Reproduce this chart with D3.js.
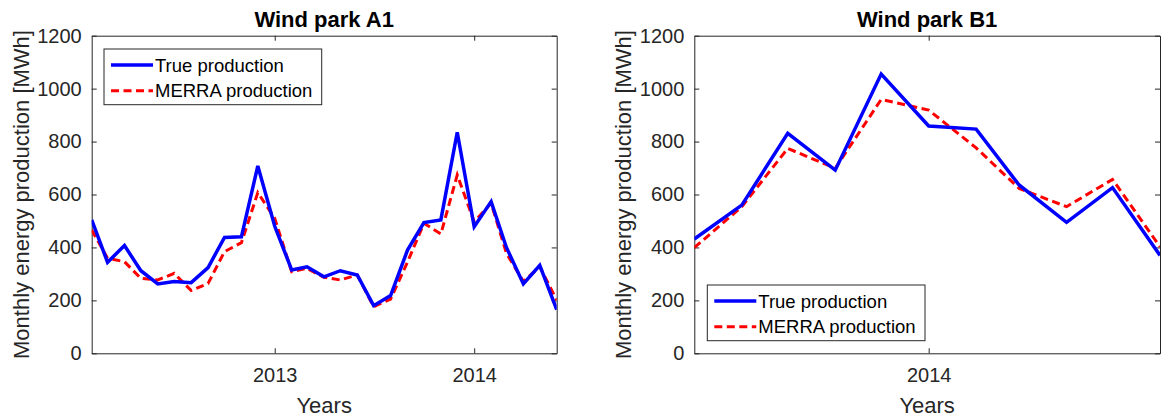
<!DOCTYPE html>
<html>
<head>
<meta charset="utf-8">
<script src="https://cdn.jsdelivr.net/npm/d3@7"></script>
<style>
  body { margin: 0; background: #fff; }
  svg { font-family: "Liberation Sans", Arial, sans-serif; }
</style>
</head>
<body>
<div id="viz"></div>
<script>
// monthly values
var monthsA = ["2012-02","2012-03","2012-04","2012-05","2012-06","2012-07","2012-08","2012-09","2012-10","2012-11","2012-12",
               "2013-01","2013-02","2013-03","2013-04","2013-05","2013-06","2013-07","2013-08","2013-09","2013-10","2013-11","2013-12",
               "2014-01","2014-02","2014-03","2014-04","2014-05","2014-06"];
var trueA  = [504,344,407,312,262,271,267,324,438,440,708,480,315,327,289,312,296,180,218,390,494,504,835,478,573,400,262,332,165];
var merraA = [466,359,346,283,277,302,237,264,384,418,607,510,308,321,287,277,296,176,205,345,491,451,674,497,567,378,271,327,201];

var monthsB = ["2013-08","2013-09","2013-10","2013-11","2013-12","2014-01","2014-02","2014-03","2014-04","2014-05","2014-06"];
var trueB  = [432,560,831,692,1055,859,847,636,495,626,370];
var merraB = [399,554,774,699,959,919,776,623,554,657,403];

var yTicks = [0,200,400,600,800,1000,1200];
var legendLabels = ["True production","MERRA production"];

var W = 1161, H = 419;
var ink = "#262626";
var parseMonth = d3.timeParse("%Y-%m");

var svg = d3.select("#viz")
  .append("svg")
    .attr("width", W)
    .attr("height", H);

// draw one panel
function panel(id, left, right, title, months, tv, mv, legendPos) {
    var top = 35.7, bottom = 353.3;
    var dates = months.map(parseMonth);

    var x = d3.scaleTime()
        .domain([dates[0], dates[dates.length - 1]])
        .range([left, right]);
    var y = d3.scaleLinear()
        .domain([0, 1200])
        .range([bottom, top]);

    var g = svg.append("g");

    g.append("clipPath").attr("id", "clip" + id)
      .append("rect")
        .attr("x", left).attr("y", top)
        .attr("width", right - left).attr("height", bottom - top);

    // year ticks inside the range
    var years = d3.timeYear.range(d3.timeDay.offset(dates[0], 1), d3.timeDay.offset(dates[dates.length - 1], 1));

    // axes with inward ticks on all four sides
    g.append("g")
        .attr("transform", "translate(0," + bottom + ")")
        .call(d3.axisBottom(x).tickValues(years).tickFormat(d3.timeFormat("%Y")).tickSizeInner(-5).tickSizeOuter(0).tickPadding(15));
    g.append("g")
        .attr("transform", "translate(0," + top + ")")
        .call(d3.axisTop(x).tickValues(years).tickFormat("").tickSizeInner(-5).tickSizeOuter(0));
    g.append("g")
        .attr("transform", "translate(" + left + ",0)")
        .call(d3.axisLeft(y).tickValues(yTicks).tickFormat(d3.format("d")).tickSizeInner(-5).tickSizeOuter(0).tickPadding(10));
    g.append("g")
        .attr("transform", "translate(" + right + ",0)")
        .call(d3.axisRight(y).tickValues(yTicks).tickFormat("").tickSizeInner(-5).tickSizeOuter(0));

    g.selectAll(".domain").attr("stroke", ink).attr("stroke-width", 1);
    g.selectAll(".tick line").attr("stroke", ink).attr("stroke-width", 1);
    g.selectAll(".tick text").attr("fill", ink).style("font-size", "20px");

    // lines
    var line = d3.line()
        .x(function(d, i) { return x(dates[i]); })
        .y(function(d) { return y(d); });

    var lines = g.append("g").attr("clip-path", "url(#clip" + id + ")");
    lines.append("path")
        .datum(mv)
        .attr("d", line)
        .attr("fill", "none")
        .attr("stroke", "#ff0000")
        .attr("stroke-width", 3)
        .attr("stroke-dasharray", "8,4.5");
    lines.append("path")
        .datum(tv)
        .attr("d", line)
        .attr("fill", "none")
        .attr("stroke", "#0000ff")
        .attr("stroke-width", 3.5);

    // title and labels
    g.append("text")
        .attr("x", (left + right) / 2).attr("y", 26.7)
        .attr("text-anchor", "middle")
        .attr("fill", "#000")
        .style("font-size", "22px").style("font-weight", "bold")
        .text(title);
    g.append("text")
        .attr("x", (left + right) / 2).attr("y", 413)
        .attr("text-anchor", "middle")
        .attr("fill", ink)
        .style("font-size", "22px")
        .text("Years");
    g.append("text")
        .attr("transform", "translate(" + (left - 63.2) + "," + ((top + bottom) / 2) + ") rotate(-90)")
        .attr("text-anchor", "middle")
        .attr("fill", ink)
        .style("font-size", "22px")
        .text("Monthly energy production [MWh]");

    // legend
    var lg = g.append("g").attr("transform", "translate(" + legendPos[0] + "," + legendPos[1] + ")");
    lg.append("rect")
        .attr("x", 0).attr("y", 0)
        .attr("width", 217.7).attr("height", 55.7)
        .attr("fill", "#fff").attr("stroke", ink).attr("stroke-width", 1);
    var styles = [{c: "#0000ff", w: 3.5, d: null}, {c: "#ff0000", w: 3, d: "8,4.5"}];
    legendLabels.forEach(function(lab, i) {
        var cy = 16 + i * 25.7;
        lg.append("line")
            .attr("x1", 7).attr("x2", 49).attr("y1", cy).attr("y2", cy)
            .attr("stroke", styles[i].c).attr("stroke-width", styles[i].w)
            .attr("stroke-dasharray", styles[i].d);
        lg.append("text")
            .attr("x", 51).attr("y", cy)
            .attr("dominant-baseline", "central")
            .attr("fill", "#000")
            .style("font-size", "18.5px")
            .text(lab);
    });
}

panel("A", 91.7, 556.7, "Wind park A1", monthsA, trueA, merraA, [104, 49]);
panel("B", 694.3, 1160, "Wind park B1", monthsB, trueB, merraB, [707.3, 285]);
</script>
</body>
</html>
